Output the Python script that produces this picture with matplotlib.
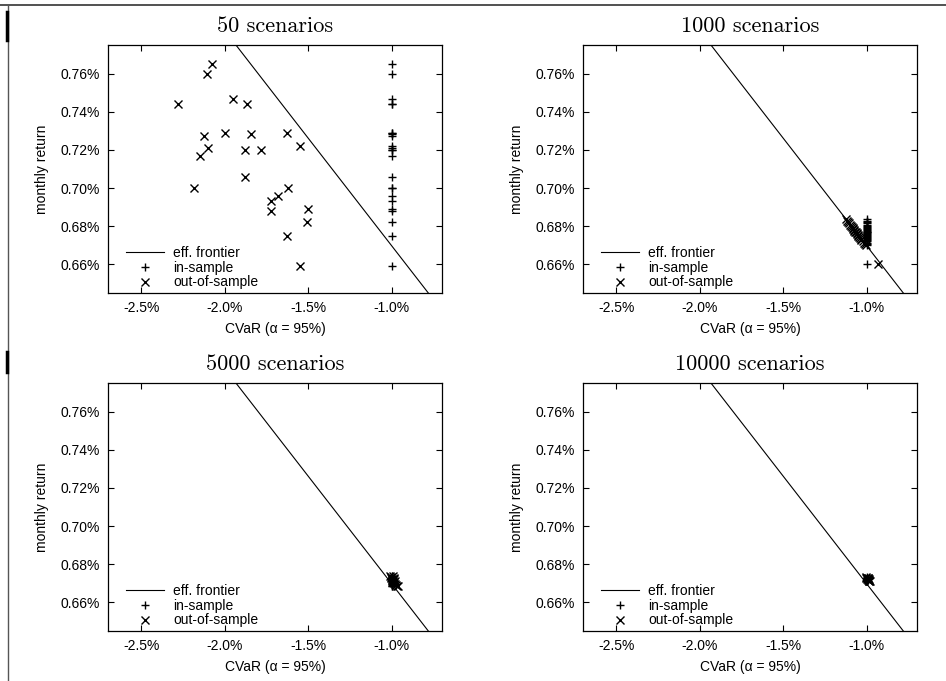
import matplotlib
matplotlib.use("Agg")
import matplotlib.pyplot as plt
from matplotlib.lines import Line2D

# efficient frontier (CVaR in %, monthly return in %)
frontier_cvar = [-1.934, -0.782]
frontier_ret = [0.775, 0.645]

# 50 scenarios
ret_50 = [0.7652, 0.7600, 0.7441, 0.7469, 0.7441, 0.7271, 0.7291, 0.7282,
          0.7291, 0.7210, 0.7170, 0.7200, 0.7200, 0.7221, 0.7060, 0.7000,
          0.7000, 0.6960, 0.6930, 0.6880, 0.6890, 0.6820, 0.6750, 0.6590]
cvar_in_50 = [-1.0] * len(ret_50)
cvar_out_50 = [-2.080, -2.106, -2.280, -1.952, -1.870, -2.126, -1.998, -1.846,
               -1.630, -2.102, -2.148, -1.880, -1.786, -1.550, -1.880, -2.188,
               -1.620, -1.680, -1.724, -1.724, -1.500, -1.510, -1.626, -1.550]

# 1000 scenarios
ret_1000 = [0.6838, 0.6830, 0.6822, 0.6815, 0.6808, 0.6802, 0.6797, 0.6791,
            0.6786, 0.6781, 0.6777, 0.6772, 0.6768, 0.6764, 0.6759, 0.6755,
            0.6750, 0.6745, 0.6740, 0.6735, 0.6729, 0.6722, 0.6714, 0.6706,
            0.6699, 0.6600]
cvar_in_1000 = [-1.0] * len(ret_1000)
cvar_out_1000 = [-1.128, -1.118, -1.114, -1.106, -1.101, -1.094, -1.092, -1.085,
                 -1.083, -1.076, -1.075, -1.069, -1.068, -1.062, -1.061, -1.055,
                 -1.052, -1.046, -1.043, -1.038, -1.033, -1.025, -1.019, -1.010,
                 -1.004, -0.935]

# 5000 scenarios
ret_5000 = [0.6740, 0.6736, 0.6732, 0.6729, 0.6726, 0.6723, 0.6720, 0.6717,
            0.6714, 0.6711, 0.6707, 0.6703, 0.6698, 0.6693, 0.6688, 0.6684]
cvar_in_5000 = [-1.0] * len(ret_5000)
cvar_out_5000 = [-1.012, -0.995, -1.008, -0.990, -1.003, -0.996, -0.988, -1.000,
                 -0.992, -0.984, -0.995, -0.987, -0.980, -0.975, -0.968, -0.962]

# 10000 scenarios
ret_10000 = [0.6733, 0.6730, 0.6728, 0.6726, 0.6724, 0.6722, 0.6720, 0.6718,
             0.6716, 0.6714, 0.6712, 0.6710]
cvar_in_10000 = [-1.0] * len(ret_10000)
cvar_out_10000 = [-1.008, -0.996, -1.004, -0.992, -1.000, -0.990, -0.996, -0.986,
                  -0.993, -0.985, -0.990, -0.982]

titles = ["50 scenarios", "1000 scenarios", "5000 scenarios", "10000 scenarios"]
panels = [(ret_50, cvar_in_50, cvar_out_50),
          (ret_1000, cvar_in_1000, cvar_out_1000),
          (ret_5000, cvar_in_5000, cvar_out_5000),
          (ret_10000, cvar_in_10000, cvar_out_10000)]

xticks = [-2.5, -2.0, -1.5, -1.0]
yticks = [0.66, 0.68, 0.70, 0.72, 0.74, 0.76]

W, H = 946, 681
fig = plt.figure(figsize=(W / 100, H / 100), dpi=100)
plt.rcParams['font.family'] = ['Liberation Sans', 'DejaVu Sans']

# axes boxes in pixels: left, top
boxes = [(108, 45), (583, 45), (108, 383), (583, 383)]
aw, ah = 334, 248

for k in range(4):
    left, top = boxes[k]
    ax = fig.add_axes([left / W, (H - top - ah) / H, aw / W, ah / H])
    ret, cin, cout = panels[k]

    ax.plot(frontier_cvar, frontier_ret, color='k', lw=0.8, label='eff. frontier')
    ax.plot(cin, ret, linestyle='none', marker='+', color='k', ms=6, mew=1.0, label='in-sample')
    ax.plot(cout, ret, linestyle='none', marker='x', color='k', ms=5.8, mew=1.0, label='out-of-sample')

    ax.set_xlim(-2.7, -0.7)
    ax.set_ylim(0.645, 0.775)
    ax.set_xticks(xticks)
    ax.set_xticklabels(['%.1f%%' % v for v in xticks])
    ax.set_yticks(yticks)
    ax.set_yticklabels(['%.2f%%' % v for v in yticks])
    ax.tick_params(direction='in', top=True, right=True, length=4, width=0.8,
                   labelsize=10, pad=6)
    for s in ax.spines.values():
        s.set_linewidth(0.9)

    ax.set_xlabel("CVaR (\u03b1 = 95%)", fontsize=10, labelpad=5)
    ax.set_ylabel("monthly return", fontsize=10, labelpad=8)
    ax.set_title(titles[k], fontsize=16, family='cmr10', pad=9)

    ax.legend(loc='lower left', bbox_to_anchor=(0.038, -0.008), frameon=False,
              fontsize=10, handlelength=2.7, handletextpad=0.7,
              labelspacing=0.05, borderaxespad=0.0, borderpad=0.4)

# border lines of the page
fig.add_artist(Line2D([0, 1], [1 - 4.5 / H, 1 - 4.5 / H], color='#333333', lw=1.2))
fig.add_artist(Line2D([7.5 / W, 7.5 / W], [0, 1 - 4.5 / H], color='#555555', lw=1.0))
fig.add_artist(Line2D([6.5 / W, 6.5 / W], [1 - 12 / H, 1 - 40 / H], color='k', lw=2.5))
fig.add_artist(Line2D([6.5 / W, 6.5 / W], [1 - 352 / H, 1 - 372 / H], color='k', lw=2.5))

fig.savefig("out.png", dpi=100)
